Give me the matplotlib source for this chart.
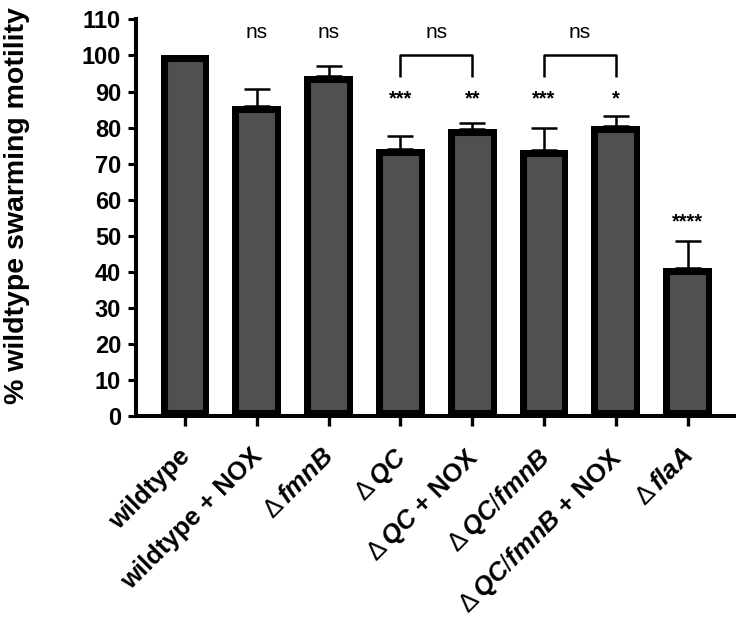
import matplotlib
matplotlib.use("Agg")
import matplotlib.pyplot as plt
import matplotlib.transforms as mtransforms
import numpy as np

# =========================
# DATA
# =========================

strains = [
    "wildtype",
    "wildtype + NOX",
    r"$\mathrm{\Delta}\,\mathit{fmnB}$",
    r"$\mathrm{\Delta}\,\mathit{QC}$",
    r"$\mathrm{\Delta}\,\mathit{QC}$ + NOX",
    r"$\mathrm{\Delta}\,\mathit{QC/fmnB}$",
    r"$\mathrm{\Delta}\,\mathit{QC/fmnB}$ + NOX",
    r"$\mathrm{\Delta}\,\mathit{flaA}$",
]

swarming = [100, 86.0, 94.2, 74.2, 79.7, 73.7, 80.5, 41.1]
sem = [0, 4.6, 3.0, 3.6, 1.7, 6.2, 2.7, 7.4]

# significance vs wildtype
signif = ["", "ns", "ns", "***", "**", "***", "*", "****"]
signif_y = [0, 106.5, 106.5, 88, 88, 88, 88, 54]

# pairwise comparisons
pairs = [(3, 4), (5, 6)]
pair_labels = ["ns", "ns"]
bracket_top = 100
bracket_drop = 6

yticks = list(range(0, 111, 10))

# =========================
# STYLE
# =========================

plt.rcParams["font.family"] = ["Liberation Sans", "DejaVu Sans"]
plt.rcParams["mathtext.fontset"] = "custom"
plt.rcParams["mathtext.rm"] = "Liberation Sans"
plt.rcParams["mathtext.it"] = "Liberation Sans:italic:bold"
plt.rcParams["mathtext.bf"] = "Liberation Sans:bold"

fig = plt.figure(figsize=(7.36, 6.21), dpi=100)
ax = fig.add_axes([0.1848, 0.3295, 0.816, 0.6393])

x = np.arange(len(strains))

bars = ax.bar(
    x,
    swarming,
    width=0.68,
    color="#505050",
    edgecolor="black",
    linewidth=9.4,
    zorder=2
)

# stroke on the inside only, like Prism does
for b in bars:
    b.set_clip_path(b)

err_low = np.zeros(len(sem))
ax.errorbar(
    x[1:],
    swarming[1:],
    yerr=[err_low[1:], sem[1:]],
    fmt="none",
    ecolor="black",
    elinewidth=1.8,
    capsize=9.6,
    capthick=1.8,
    zorder=1
)

# =========================
# ANNOTATIONS
# =========================

for i, lab in enumerate(signif):
    if lab == "":
        continue
    if lab == "ns":
        ax.text(x[i], signif_y[i], lab, ha="center", va="center",
                fontsize=15)
    else:
        ax.text(x[i], signif_y[i], lab, ha="center", va="center",
                fontsize=14.5, fontweight="bold")

for (a, b), lab in zip(pairs, pair_labels):
    ax.plot(
        [x[a], x[a], x[b], x[b]],
        [bracket_top - bracket_drop, bracket_top, bracket_top, bracket_top - bracket_drop],
        color="black",
        linewidth=1.8,
        solid_capstyle="butt"
    )
    ax.text((x[a] + x[b]) / 2, 106.5, lab, ha="center", va="center",
            fontsize=15)

# =========================
# AXES
# =========================

ax.set_xlim(-0.683, len(strains) - 1 + 0.683)
ax.set_ylim(0, 110)

ax.set_yticks(yticks)
ax.set_yticklabels([str(t) for t in yticks], fontsize=17, fontweight="bold")

ax.set_xticks(x)
ax.set_xticklabels(
    strains,
    rotation=45,
    ha="right",
    rotation_mode="anchor",
    fontsize=18.5,
    fontweight="bold"
)

ax.set_ylabel("% wildtype swarming motility", fontsize=20.5, fontweight="bold")
ax.yaxis.set_label_coords(-0.1765, 0.53)

ax.spines["top"].set_visible(False)
ax.spines["right"].set_visible(False)
ax.spines["left"].set_linewidth(2.9)
ax.spines["bottom"].set_linewidth(2.9)

ax.tick_params(axis="y", length=5.8, width=2.2, pad=5)
ax.tick_params(axis="x", length=7, width=2.4, pad=10)

# nudge rotated labels a little down-left (after tick_params, which resets them)
shift = mtransforms.ScaledTranslation(-5 / 72, -3 / 72, fig.dpi_scale_trans)
for tick in ax.xaxis.get_major_ticks():
    tick.label1.set_transform(tick.label1.get_transform() + shift)

fig.savefig("out.png", dpi=100)
